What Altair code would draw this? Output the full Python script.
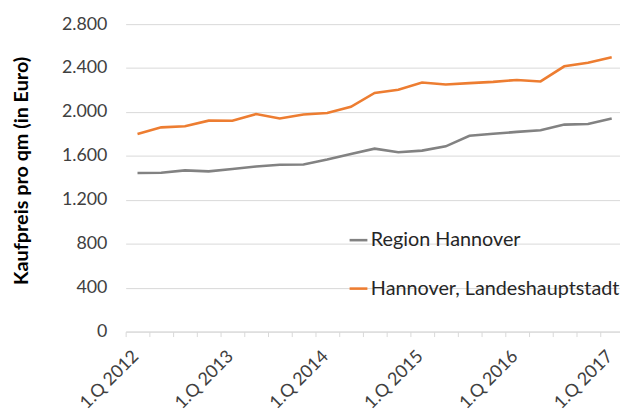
import altair as alt
import pandas as pd

quarters = [
    "1.Q 2012", "2.Q 2012", "3.Q 2012", "4.Q 2012",
    "1.Q 2013", "2.Q 2013", "3.Q 2013", "4.Q 2013",
    "1.Q 2014", "2.Q 2014", "3.Q 2014", "4.Q 2014",
    "1.Q 2015", "2.Q 2015", "3.Q 2015", "4.Q 2015",
    "1.Q 2016", "2.Q 2016", "3.Q 2016", "4.Q 2016",
    "1.Q 2017",
]
region_hannover = [1444, 1447, 1468, 1459, 1480, 1504, 1519, 1522, 1567, 1618,
                   1666, 1633, 1648, 1687, 1784, 1801, 1819, 1834, 1885, 1891, 1941]
landeshauptstadt = [1800, 1860, 1870, 1921, 1920, 1981, 1941, 1977, 1990, 2047,
                    2173, 2202, 2269, 2251, 2263, 2274, 2292, 2278, 2416, 2449, 2499]
series_names = ["Region Hannover", "Hannover, Landeshauptstadt"]
series_colors = ["#828282", "#ED7D31"]
y_ticks = [0, 400, 800, 1200, 1600, 2000, 2400, 2800]

rows = []
for name, vals in zip(series_names, [region_hannover, landeshauptstadt]):
    for i, (q, v) in enumerate(zip(quarters, vals)):
        rows.append({"idx": i, "quarter": q, "value": v, "series": name})
df = pd.DataFrame(rows)

W, H = 500, 311
x_domain = [-0.5, 20.35]
band = W / (x_domain[1] - x_domain[0])
tick_vals = [i - 0.5 for i in range(len(quarters))]
label_js = "[" + ",".join('"%s"' % q for q in quarters) + "]"
x_label_expr = (
    "(datum.value + 0.5) % 4 == 0 ? " + label_js + "[datum.value + 0.5] : ''"
)
y_label_expr = "replace(format(datum.value, ','), ',', '.')"

FONT = "Lato"
TXT = "#404040"
GRID = "#D9D9D9"

chart = (
    alt.Chart(df)
    .mark_line(strokeWidth=2.6)
    .encode(
        x=alt.X(
            "idx:Q",
            scale=alt.Scale(domain=x_domain, nice=False, zero=False),
            axis=alt.Axis(
                values=tick_vals,
                labelExpr=x_label_expr,
                labelOffset=band / 2 - 2,
                labelAngle=315,
                labelAlign="right",
                labelBaseline="middle",
                labelPadding=17,
                labelFontSize=18,
                labelColor=TXT,
                labelOverlap=False,
                labelFlush=False,
                labelBound=False,
                labelLimit=0,
                grid=False,
                ticks=True,
                tickSize=5,
                tickColor=GRID,
                domainColor=GRID,
                title=None,
            ),
        ),
        y=alt.Y(
            "value:Q",
            scale=alt.Scale(domain=[0, 2800], nice=False),
            axis=alt.Axis(
                values=y_ticks,
                labelExpr=y_label_expr,
                labelFontSize=18,
                labelColor=TXT,
                labelPadding=19,
                grid=True,
                gridColor=GRID,
                domain=False,
                ticks=False,
                title="Kaufpreis pro qm (in Euro)",
                titleFontSize=20,
                titleFontWeight="bold",
                titleColor="#000000",
                titleX=-105,
                titleY=148,
                titleAngle=270,
                titleAlign="center",
                titleBaseline="middle",
                titleLimit=0,
            ),
        ),
        color=alt.Color(
            "series:N",
            scale=alt.Scale(domain=series_names, range=series_colors),
            legend=alt.Legend(
                title=None,
                orient="none",
                legendX=225,
                legendY=208,
                symbolType="stroke",
                symbolSize=324,
                symbolStrokeWidth=2.6,
                labelFontSize=20,
                labelColor="#262626",
                labelOffset=2,
                labelLimit=0,
                rowPadding=28,
            ),
        ),
    )
    .properties(
        width=W,
        height=H,
        autosize=alt.AutoSizeParams(type="none"),
        padding={"left": 119, "top": 14, "right": 0, "bottom": 80},
    )
    .configure(font=FONT)
    .configure_view(stroke=None)
)

chart.save("out.html", embed_options={"renderer": "svg", "actions": False})
